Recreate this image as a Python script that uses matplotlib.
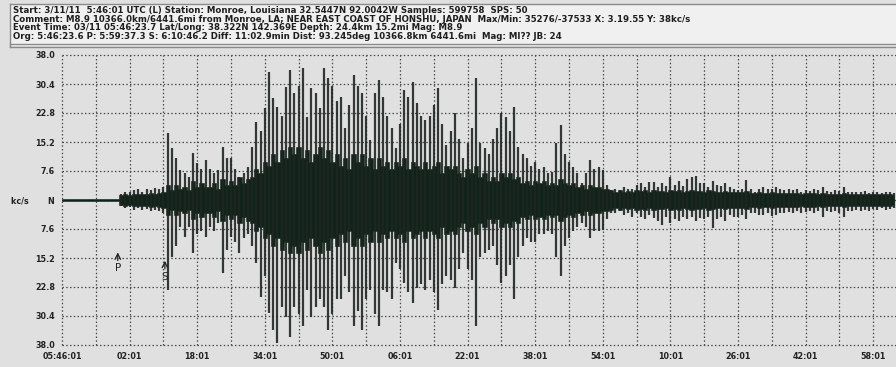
import numpy as np
import matplotlib
matplotlib.use("Agg")
import matplotlib.pyplot as plt
from matplotlib.lines import Line2D
from matplotlib.patches import Rectangle

# seismogram, one value per minute after 05:46:01
# upper / lower = peak excursion in the minute, core = half width of the dense band (kc/s)
upper = [
    0, 0, 0, 0, 0, 0, 0, 0, 0, 0, 0, 0, 0, 0,
    1.5, 2.0, 2.2, 2.5, 2.8, 2.2, 3.0, 2.6, 3.2, 2.8, 3.5,
    17.5, 13.6, 11, 7.8, 7, 6, 12.3, 9.6, 8, 10.5,
    8, 7, 7.9, 14, 11, 11, 8, 6, 7, 8.6,
    14, 20.4, 18, 24, 33.5, 26.7, 24.3, 22, 29.6, 34,
    28, 30, 34.5, 21.8, 29.3, 28, 24, 34.5, 32, 30,
    26, 27, 19, 25, 32.7, 30, 28, 22, 15.7, 28,
    31.4, 27, 22, 19, 13.6, 20, 28.8, 27, 31, 25.4,
    22, 21, 22, 25, 29.3, 20, 14.5, 18, 22.8, 16,
    11, 15, 19, 32, 15, 13.6, 12, 16, 19, 22.8,
    21.8, 18, 24.3, 14, 12, 11, 9, 10, 8, 8.6,
    7, 7.3, 15, 19.6, 12, 10, 8.6, 7, 4.4, 7,
    10.5, 8, 8.6, 7.8, 4, 2.6, 3, 2.6, 3.5, 3,
    2.8, 4, 4.4, 3.5, 4.8, 4.8, 3.5, 4.4, 3.8, 6,
    4, 5, 3.6, 5.5, 6, 6.3, 4.5, 4.4, 3.5, 5,
    4, 3.8, 4.4, 3.5, 3, 2.6, 3, 5.2, 3, 2.2,
    3, 3.5, 2.8, 3, 3.3, 2.8, 2.6, 3, 2.5, 2.8,
    2.2, 2.6, 2.4, 3, 2.6, 3.5, 2.4, 2.2, 2.6, 2.4,
    3.5, 2.2, 2, 2.2, 2, 2.4, 1.8, 2.2, 2, 1.8,
    2.2, 2, 1.8,
]
lower = [
    0, 0, 0, 0, 0, 0, 0, 0, 0, 0, 0, 0, 0, 0,
    -1.5, -2.0, -1.8, -2.5, -2.2, -2.6, -2.4, -2.8, -2.5, -3.0, -3.5,
    -23.6, -15, -12, -7, -9.6, -7, -14, -9, -8, -9.6,
    -7, -8, -6, -19, -13, -9.6, -11, -14, -10, -9,
    -12, -16.5, -25.4, -20, -29.6, -34, -37.4, -28, -30.6, -36,
    -28, -30, -33, -23.6, -30.6, -28, -26, -28, -34, -30,
    -26, -26, -20, -24, -33, -29, -34, -26, -23.6, -30,
    -33, -23.6, -24, -26, -16.5, -18, -21.8, -24, -27, -23,
    -22, -23.6, -21, -24, -28.8, -22, -20, -21, -23, -18,
    -14, -18, -21, -33, -15, -14, -13, -12, -17, -21.8,
    -20, -17, -26, -15, -12, -10, -11, -11, -9, -9,
    -8, -9, -15, -20, -12, -10, -8, -7, -6, -7,
    -10, -8, -8, -7.8, -5, -3.5, -3.5, -3, -4, -3.5,
    -4.4, -3.5, -4.4, -5, -4, -4.8, -5.5, -6.5, -4.5, -6,
    -5, -5.5, -4.5, -5, -4.5, -5.5, -4.8, -5, -4.4, -7.3,
    -5, -4.5, -5.5, -4, -4.4, -4.4, -4, -5, -3.5, -3.5,
    -4, -3.8, -3.5, -4.2, -3.8, -3.5, -3.5, -3.2, -3.5, -3,
    -3.5, -3.2, -3, -3.5, -3, -4.4, -3, -3.2, -3, -3.5,
    -4.4, -3, -2.8, -2.6, -3, -2.6, -2.8, -2.4, -2.6, -2.2,
    -2.6, -2.4, -2.2,
]
core = [
    0.3, 0.3, 0.3, 0.3, 0.3, 0.3, 0.3, 0.3, 0.3, 0.3, 0.3, 0.3, 0.3, 0.3,
    1.2, 1.5, 1.4, 1.7, 1.5, 1.7, 1.6, 1.8, 1.6, 1.9, 2.0,
    4, 2.5, 4, 3, 3.5, 2.5, 5, 3.5, 4.5, 3.5,
    3.5, 4.5, 3, 5.5, 4, 5, 4, 6, 4.5, 5.5,
    6, 8, 7, 10, 9, 12, 10, 13, 11, 14,
    12, 14, 11, 13, 10, 12, 14, 11, 13, 10,
    12, 9, 11, 8, 12, 10, 12, 9, 11, 8,
    11, 9, 10, 8, 10, 9, 11, 8, 10, 9,
    8, 10, 8, 9, 10, 7, 9, 8, 9, 7,
    6, 8, 7, 9, 6, 7, 5, 6, 5, 7,
    6, 7, 5.5, 6, 4.5, 5, 4, 5, 4.5, 5,
    4, 4.5, 4, 5.5, 4.5, 4, 4.5, 3.5, 4, 3,
    4, 3.5, 3.5, 3, 3, 2.5, 2.2, 2.5, 2.2, 2.4,
    2.2, 2.6, 2.3, 2.5, 2.2, 2.6, 2.3, 2.4, 2.2, 2.6,
    2.3, 2.5, 2.2, 2.4, 2.6, 2.3, 2.4, 2.2, 2.5, 2.3,
    2.2, 2.1, 2.3, 2.0, 2.2, 2.0, 2.1, 2.3, 1.9, 1.8,
    2.0, 1.9, 1.8, 2.0, 1.9, 1.8, 1.9, 1.8, 1.9, 1.8,
    1.7, 1.9, 1.8, 1.8, 1.7, 1.9, 1.6, 1.7, 1.6, 1.7,
    1.8, 1.6, 1.5, 1.6, 1.5, 1.6, 1.5, 1.5, 1.6, 1.5,
    1.5, 1.6, 1.4,
]
minutes = np.arange(len(upper))

p_time = 13.6    # 5:59:37.3
s_time = 24.75   # 6:10:46.2

x_labels = ["05:46:01", "02:01", "18:01", "34:01", "50:01", "06:01", "22:01",
            "38:01", "54:01", "10:01", "26:01", "42:01", "58:01"]
y_labels = ["38.0", "30.4", "22.8", "15.2", "7.6", "kc/s       N",
            "7.6", "15.2", "22.8", "30.4", "38.0"]

header = [
    "Start: 3/11/11  5:46:01 UTC (L) Station: Monroe, Louisiana 32.5447N 92.0042W Samples: 599758  SPS: 50",
    "Comment: M8.9 10366.0km/6441.6mi from Monroe, LA; NEAR EAST COAST OF HONSHU, JAPAN  Max/Min: 35276/-37533 X: 3.19.55 Y: 38kc/s",
    "Event Time: 03/11 05:46:23.7 Lat/Long: 38.322N 142.369E Depth: 24.4km 15.2mi Mag: M8.9",
    "Org: 5:46:23.6 P: 5:59:37.3 S: 6:10:46.2 Diff: 11:02.9min Dist: 93.245deg 10366.8km 6441.6mi  Mag: MI?? JB: 24",
]

W, H = 896, 367
fig = plt.figure(figsize=(W / 100, H / 100), dpi=100)
fig.patch.set_facecolor("#e0e0e0")

# header box
fig.patches.append(Rectangle((10 / W, 1 - 46 / H), 1, 42 / H, transform=fig.transFigure,
                             facecolor="#f0f0f0", edgecolor="none"))
for y in (4, 44, 47):
    fig.add_artist(Line2D([10 / W, 1], [1 - y / H] * 2, color="#8a8a8a", lw=1))
fig.add_artist(Line2D([10 / W] * 2, [1 - 4 / H, 1 - 47 / H], color="#8a8a8a", lw=1))
for i, line in enumerate(header):
    fig.text(13 / W, 1 - (10.5 + 8.6 * i) / H, line, fontsize=6.2, fontweight="bold",
             family="DejaVu Sans", color="#1e1e1e", va="center", ha="left")

ax = fig.add_axes([62 / W, 22 / H, 1 - 62 / W, 290 / H])
ax.set_facecolor("#e0e0e0")
ax.set_xlim(0, (W - 62) / 4.225)
ax.set_ylim(-38, 38)

ax.set_xticks(np.arange(0, 197, 8))
ax.set_xticklabels([x_labels[i // 2] if i % 2 == 0 else "" for i in range(len(ax.get_xticks()))])
ax.set_yticks(np.linspace(38, -38, 11))
ax.set_yticklabels(y_labels)
ax.tick_params(length=0, labelsize=5.8, colors="#222222", pad=5)
for lab in ax.get_xticklabels() + ax.get_yticklabels():
    lab.set_fontweight("bold")
    lab.set_family("DejaVu Sans")
ax.grid(True, color="#4a4a4a", linestyle=(0, (1.2, 1.8)), lw=0.9)
ax.set_axisbelow(True)
for gl in ax.get_xgridlines() + ax.get_ygridlines():
    gl.set_clip_on(False)
for sp in ax.spines.values():
    sp.set_visible(False)

ax.vlines(minutes, lower, upper, color="#1f2622", lw=1.6, alpha=0.9)
ax.fill_between(minutes, -np.array(core), core, step="mid", color="#0f2419", lw=0.4)

for t, name, tip in ((p_time, "P", -13.0), (s_time, "S", -15.2)):
    ax.annotate("", xy=(t - 0.4, tip), xytext=(t - 0.4, tip - 3.6),
                arrowprops=dict(arrowstyle="->", lw=0.9, color="#222222"), zorder=5)
    ax.text(t - 0.4, tip - 3.6, name, ha="center", va="top", fontsize=7.5,
            family="DejaVu Sans", color="#222222", zorder=5)

fig.savefig("out.png", dpi=100, facecolor=fig.get_facecolor())
